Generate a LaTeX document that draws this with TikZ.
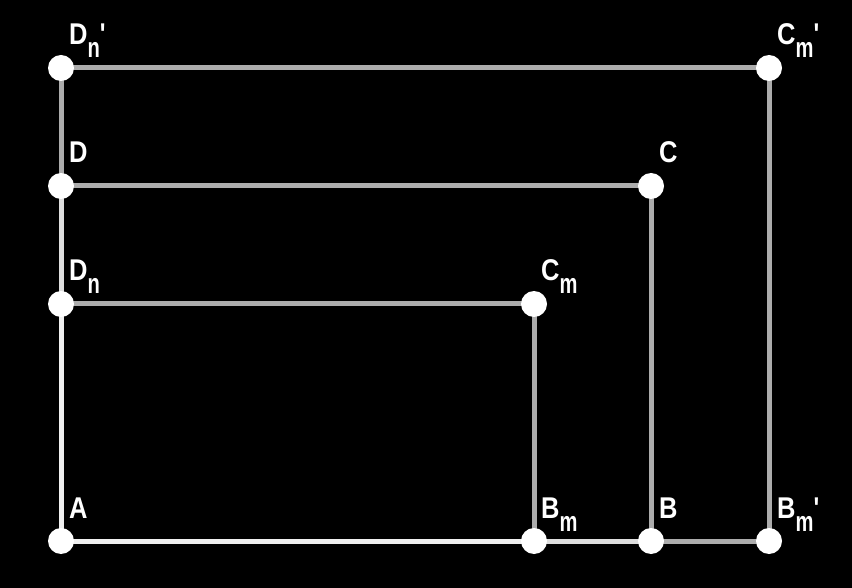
\documentclass[tikz,border=0pt]{standalone}
\usepackage{fontspec}
\setmainfont{Liberation Sans}
\newfontfamily\labfont{Liberation Sans}
\begin{document}
\begin{tikzpicture}[x=1pt,y=-1pt,
  pt/.style={circle,fill=white,inner sep=0pt,minimum size=26pt},
  lab/.style={anchor=base west,text=white,font=\labfont\fontsize{30}{30}\selectfont\bfseries,inner sep=0pt},
  edgeW/.style={draw={rgb,255:red,240;green,240;blue,240},line width=5pt},
  edgeL/.style={draw={rgb,255:red,222;green,222;blue,222},line width=5pt},
  edgeG/.style={draw={rgb,255:red,172;green,172;blue,172},line width=5pt}]
\fill[black] (0,0) rectangle (852,588);
\useasboundingbox (0,0) rectangle (852,588);
\newcommand{\mainl}[1]{\scalebox{0.85}[1]{#1}}
\newcommand{\sub}[1]{\raisebox{-13pt}{\scalebox{0.72}[1]{\fontsize{28}{28}\selectfont\bfseries #1}}}
\newcommand{\prm}{\scalebox{0.8}[1]{'}}
% points
\coordinate (A) at (61,541);
\coordinate (Bm) at (534,541);
\coordinate (B) at (651,541);
\coordinate (Bmp) at (769,541);
\coordinate (Dn) at (61,304);
\coordinate (Cm) at (534,304);
\coordinate (D) at (61,186);
\coordinate (C) at (651,186);
\coordinate (Dnp) at (61,68);
\coordinate (Cmp) at (769,68);
% edges
\draw[edgeG] (Dnp) -- (Cmp);
\draw[edgeG] (Cmp) -- (Bmp);
\draw[edgeG] (C) -- (B);
\draw[edgeG] (Cm) -- (Bm);
\draw[edgeG] (D) -- (C);
\draw[edgeG] (Dn) -- (Cm);
\draw[edgeG] (Dnp) -- (D);
\draw[edgeL] (D) -- (Dn);
\draw[edgeW] (Dn) -- (A);
\draw[edgeW] (A) -- (Bm);
\draw[edgeL] (Bm) -- (B);
\draw[edgeG] (B) -- (Bmp);
% nodes
\foreach \p in {A,Bm,B,Bmp,Dn,Cm,D,C,Dnp,Cmp}{\node[pt] (n\p) at (\p) {};}
% labels
\node[lab] (lA) at (69,518) {\mainl{A}};
\node[lab] (lBm) at (541,518) {\mainl{B}\sub{m}};
\node[lab] (lB) at (659,518) {\mainl{B}};
\node[lab] (lBmp) at (777,518) {\mainl{B}\sub{m}\prm};
\node[lab] (lDn) at (69,281) {\mainl{D}\sub{n}};
\node[lab] (lCm) at (541,281) {\mainl{C}\sub{m}};
\node[lab] (lD) at (69,163) {\mainl{D}};
\node[lab] (lC) at (659,163) {\mainl{C}};
\node[lab] (lDnp) at (69,45) {\mainl{D}\sub{n}\prm};
\node[lab] (lCmp) at (777,45) {\mainl{C}\sub{m}\prm};
\end{tikzpicture}
\end{document}
